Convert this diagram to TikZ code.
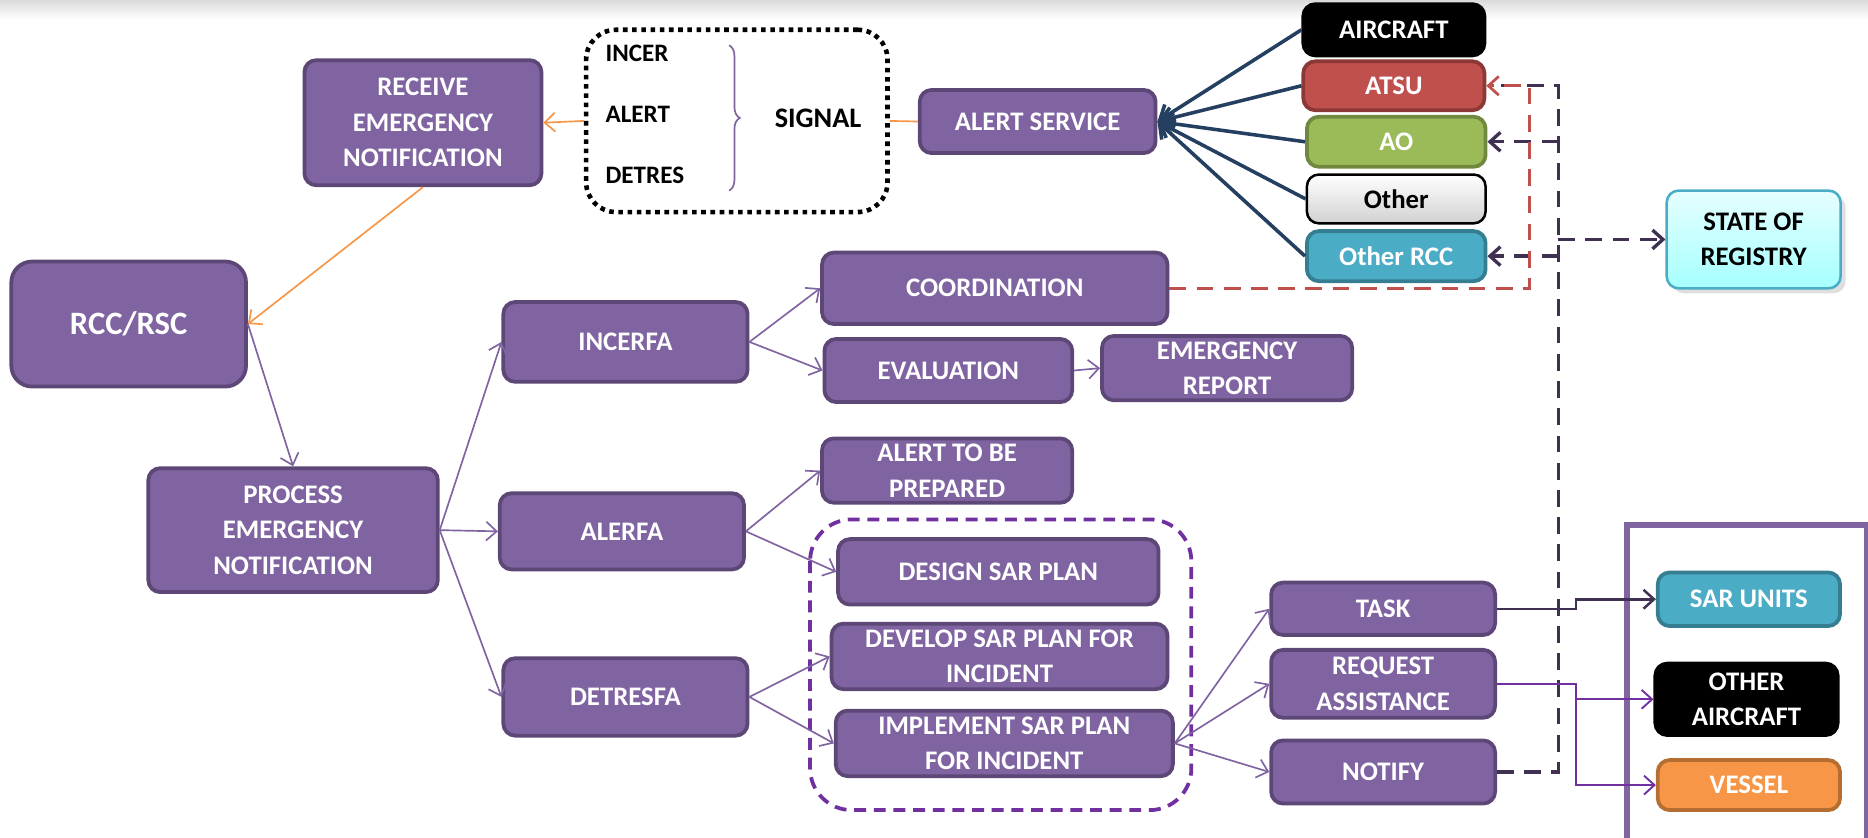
\documentclass[tikz,border=0pt]{standalone}
\usepackage{fontspec}
\setmainfont{Carlito}
\usepackage{tikz}
\usetikzlibrary{arrows.meta,decorations.pathreplacing,shadows}

\definecolor{boxpurple}{HTML}{8064A2}
\definecolor{boxedge}{HTML}{5C4776}
\definecolor{navyline}{HTML}{243F60}
\definecolor{darkplum}{HTML}{403152}
\definecolor{sarviolet}{HTML}{7030A0}
\definecolor{redfill}{HTML}{C0504D}
\definecolor{rededge}{HTML}{8C3836}
\definecolor{greenfill}{HTML}{9BBB59}
\definecolor{greenedge}{HTML}{71893F}
\definecolor{tealfill}{HTML}{4BACC6}
\definecolor{tealedge}{HTML}{357D91}
\definecolor{orangefill}{HTML}{F79646}
\definecolor{orangeedge}{HTML}{B66D31}
\definecolor{orangeline}{HTML}{F79646}

\newcommand\boxfont{\bfseries\fontsize{12.8}{17}\selectfont}

\tikzset{
	wh/.style 2 args={minimum width=#1*0.02cm, minimum height=#2*0.02cm},
	box/.style={rectangle, rounded corners=0.2cm, line width=1.8pt, inner sep=0pt,
		align=center, text=white, font=\boxfont},
	pbox/.style={box, fill=boxpurple, draw=boxedge},
	barb/.style={-{Straight Barb[length=5pt,width=9pt]}},
	flow/.style={barb, boxpurple, line width=0.8pt},
	orangeflow/.style={orangeline, line width=0.8pt},
	navyflow/.style={-{Straight Barb[length=6pt,width=10pt]}, navyline, line width=1.7pt},
	reddash/.style={barb, redfill, line width=1.3pt, dash pattern=on 8pt off 5pt},
	darkdash/.style={barb, darkplum, line width=1.6pt, dash pattern=on 8pt off 5pt}
}

\begin{document}
\begin{tikzpicture}[x=0.02cm, y=-0.02cm]
		\useasboundingbox (0,0) rectangle (1568,703);
		\shade[top color=black!14, bottom color=white] (0,0) rectangle (1568,16);

		\node[box, wh={253}{153}, draw=black, line width=2.2pt, rounded corners=0.5cm,
			dash pattern=on 2.2pt off 2.2pt] (signalbox) at (618.5,101.5) {};
		\node[anchor=west, inner sep=0pt, font=\bfseries\fontsize{12}{14}\selectfont] (incer) at (508,45) {INCER};
		\node[anchor=west, inner sep=0pt, font=\bfseries\fontsize{12}{14}\selectfont] (alert) at (508,96) {ALERT};
		\node[anchor=west, inner sep=0pt, font=\bfseries\fontsize{12}{14}\selectfont] (detres) at (508,147) {DETRES};
		\node[anchor=west, inner sep=0pt, font=\bfseries\fontsize{13.5}{15}\selectfont] (signal) at (650,99) {SIGNAL};
		\draw[boxpurple, line width=0.8pt, decorate, decoration={brace, amplitude=0.18cm}]
			(612,38) -- (612,160);

		\node[pbox, wh={199}{105}] (receive) at (355,103) {RECEIVE\\EMERGENCY\\NOTIFICATION};
		\node[pbox, wh={198}{53}] (alertsvc) at (871,102) {ALERT SERVICE};
		\node[pbox, wh={197}{105}, rounded corners=0.35cm,
			font=\bfseries\fontsize{15.6}{18}\selectfont] (rcc) at (108,272) {RCC/RSC};
		\node[pbox, wh={243}{104}] (process) at (246,445) {PROCESS\\EMERGENCY\\NOTIFICATION};

		\node[box, wh={152}{43}, fill=black, draw=black] (aircraft) at (1170,25) {AIRCRAFT};
		\node[box, wh={152}{41}, fill=redfill, draw=rededge] (atsu) at (1170,72) {ATSU};
		\node[box, wh={150}{42}, fill=greenfill, draw=greenedge] (ao) at (1172,119) {AO};
		\node[box, wh={150}{41}, top color=white, bottom color=black!18, draw=black,
			line width=1.2pt, text=black] (other) at (1172,167) {Other};
		\node[box, wh={150}{42}, fill=tealfill, draw=tealedge] (otherrcc) at (1172,215) {Other RCC};
		\node[box, wh={146}{82}, top color=cyan!10, bottom color=cyan!35!white, draw=tealfill,
			line width=1.2pt, text=black, drop shadow={opacity=0.25}] (state) at (1472,201) {STATE OF\\REGISTRY};

		\node[pbox, wh={205}{67}] (incerfa) at (525,287) {INCERFA};
		\node[pbox, wh={205}{64}] (alerfa) at (522,446) {ALERFA};
		\node[pbox, wh={205}{65}] (detresfa) at (525,585) {DETRESFA};

		\node[pbox, wh={290}{60}] (coord) at (835,242) {COORDINATION};
		\node[pbox, wh={208}{53}] (eval) at (796,311) {EVALUATION};
		\node[pbox, wh={210}{54}] (emreport) at (1030,309) {EMERGENCY\\REPORT};
		\node[pbox, wh={210}{54}] (alertprep) at (795,395) {ALERT TO BE\\PREPARED};
		\node[pbox, wh={269}{55}] (design) at (838,480) {DESIGN SAR PLAN};
		\node[pbox, wh={282}{55}] (develop) at (839,551) {DEVELOP SAR PLAN FOR\\INCIDENT};
		\node[pbox, wh={283}{55}] (implement) at (843,624) {IMPLEMENT SAR PLAN\\FOR INCIDENT};

		\draw[sarviolet, line width=1.8pt, dash pattern=on 0.2cm off 0.13cm, rounded corners=0.7cm]
			(680,436) rectangle (1000,680);

		\node[pbox, wh={188}{44}] (task) at (1161,511) {TASK};
		\node[pbox, wh={188}{57}] (request) at (1161,574) {REQUEST\\ASSISTANCE};
		\node[pbox, wh={188}{53}] (notify) at (1161,648) {NOTIFY};

		\draw[boxpurple, line width=2.8pt] (1366,441) rectangle (1567,720);
		\node[box, wh={153}{45}, fill=tealfill, draw=tealedge] (sarunits) at (1468,503) {SAR UNITS};
		\node[box, wh={153}{60}, fill=black, draw=black] (otheraircraft) at (1466,587) {OTHER\\AIRCRAFT};
		\node[box, wh={153}{42}, fill=orangefill, draw=orangeedge] (vessel) at (1468,659) {VESSEL};

		\draw[orangeflow] (alertsvc.west) -- (signalbox.east);
		\draw[orangeflow, barb] (signalbox.west) -- (receive.east);
		\draw[orangeflow, barb] (receive.south) -- (rcc.east);

		\foreach \src in {aircraft, atsu, ao, other, otherrcc}
			\draw[navyflow] (\src.west) -- (alertsvc.east);

		\draw[flow] (rcc.east) -- (process.north);
		\foreach \dst in {incerfa, alerfa, detresfa}
			\draw[flow] (process.east) -- (\dst.west);
		\foreach \dst in {coord, eval}
			\draw[flow] (incerfa.east) -- (\dst.west);
		\draw[flow] (eval.east) -- (emreport.west);
		\foreach \dst in {alertprep, design}
			\draw[flow] (alerfa.east) -- (\dst.west);
		\foreach \dst in {develop, implement}
			\draw[flow] (detresfa.east) -- (\dst.west);
		\foreach \dst in {task, request, notify}
			\draw[flow] (implement.east) -- (\dst.west);

		\coordinate (darkx) at (1308,0);
		\coordinate (redx) at (1284,0);
		\coordinate (stepx) at (1323,0);

		\draw[darkdash, -] (notify.east) -| (darkx |- atsu.east) -- ([xshift=0.25cm]atsu.east);
		\foreach \dst in {ao, otherrcc}
			\draw[darkdash] (darkx |- \dst.east) -- (\dst.east);
		\draw[darkdash] (darkx |- state.west) -- (state.west);
		\draw[reddash] (coord.east) -| (redx |- atsu.east) -- (atsu.east);

		\draw[barb, darkplum, line width=1.2pt] (task.east) -| (stepx |- sarunits.west) -- (sarunits.west);
		\draw[barb, sarviolet, line width=0.9pt] (request.east) -| (stepx |- otheraircraft.west) -- (otheraircraft.west);
		\draw[barb, sarviolet, line width=0.9pt] (stepx |- otheraircraft.west) |- (vessel.west);
	\end{tikzpicture}
\end{document}
